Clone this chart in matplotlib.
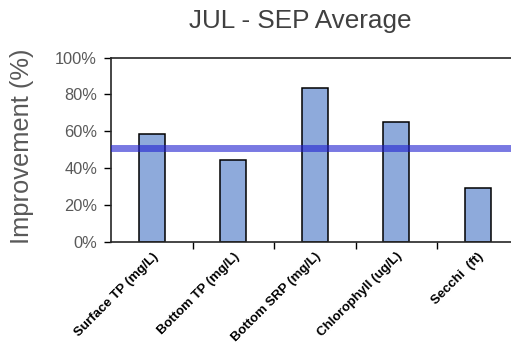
import numpy as np
import matplotlib.pyplot as plt
from matplotlib.ticker import FuncFormatter

categories = ["Surface TP (mg/L)", "Bottom TP (mg/L)", "Bottom SRP (mg/L)",
              "Chlorophyll (ug/L)", "Secchi  (ft)"]
improvement = [58.8, 44.4, 83.2, 65.3, 29.3]
target = 51.0

plt.rcParams['font.family'] = ['Liberation Sans', 'DejaVu Sans']

fig = plt.figure(figsize=(5.11, 3.48), dpi=100)
ax = fig.add_axes([111/511, 106/348, 407.5/511, 184.5/348])

x = np.arange(len(categories))
ax.bar(x, improvement, width=0.32, color='#8eaadb', edgecolor='black', linewidth=1.1, zorder=2)
ax.axhline(target, color='#2020d0', alpha=0.6, linewidth=5, zorder=3)

ax.set_xlim(-0.5, len(categories) - 0.5)
ax.set_ylim(0, 100)
ax.set_yticks(np.arange(0, 101, 20))
ax.yaxis.set_major_formatter(FuncFormatter(lambda v, p: "{:.0f}%".format(v)))
ax.tick_params(axis='y', labelsize=11.8, labelcolor='#595959', length=5, width=1, direction='out', pad=5)

ax.set_xticks(x + 0.5)
ax.set_xticklabels([])
ax.set_xticks(x, minor=True)
ax.set_xticklabels(categories, minor=True, rotation=45, ha='right', rotation_mode='anchor',
                   fontsize=9.5, fontweight='bold')
ax.tick_params(axis='x', which='major', length=5, width=1, direction='out')
ax.tick_params(axis='x', which='minor', length=0, pad=6)

for s in ['left', 'bottom', 'top']:
    ax.spines[s].set_linewidth(1.2)
    ax.spines[s].set_color('#262626')
ax.spines['right'].set_visible(False)

ax.set_ylabel("Improvement (%)", fontsize=18.4, color='#595959')
ax.yaxis.set_label_coords(-77/407.5, 0.52)
fig.text(300/511, 1 - 21/348, "JUL - SEP Average", fontsize=18.8, color='#404040', ha='center', va='center')

fig.savefig("out.png", dpi=100)
